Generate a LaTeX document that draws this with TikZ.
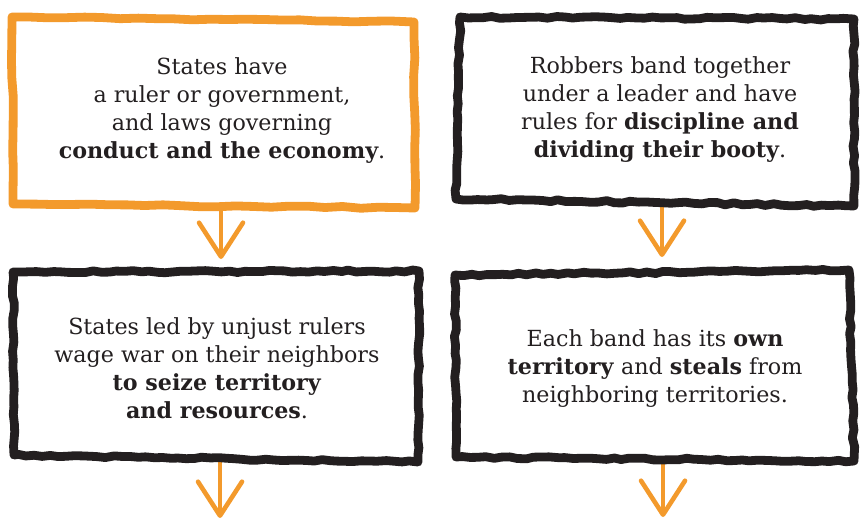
\documentclass[tikz,border=0pt]{standalone}
\usepackage{fontspec}
\setmainfont{DejaVu Serif}[BoldFont=DejaVu Serif Bold]
\usepackage{tikz}
\usetikzlibrary{arrows.meta,decorations.pathmorphing}
\definecolor{brushorange}{HTML}{F39A2C}
\definecolor{brushblack}{HTML}{231F20}

\begin{document}
\begin{tikzpicture}[x=0.5pt,y=-0.5pt,
  rough/.style={line width=4.4pt,line join=round,line cap=round,decorate,
    decoration={random steps,segment length=4pt,amplitude=0.55pt}},
  smooth rough/.style={line width=4.4pt,line join=round,line cap=round,decorate,
    decoration={random steps,segment length=9pt,amplitude=0.4pt}},
  fuzz/.style={line width=1.2pt,line join=round,decorate,
    decoration={random steps,segment length=2pt,amplitude=1pt}},
  txt/.style={align=center,text=brushblack,font=\fontsize{11.1}{14}\selectfont},
  down/.style={brushorange,line width=2.3pt,line cap=round,
    -{Straight Barb[length=17pt,width=22pt,round]}}]
\pgfmathsetseed{7}
\useasboundingbox (0,0) rectangle (860,520);
% texts
\node[txt] (states) at (222,111) {States have\\ a ruler or government,\\ and laws governing\\ \textbf{conduct and the economy}.};
\node[txt] (robbers) at (660,110) {Robbers band together\\ under a leader and have\\ rules for \textbf{discipline and}\\ \textbf{dividing their booty}.};
\node[txt] (war) at (217,368) {States led by unjust rulers\\ wage war on their neighbors\\ \textbf{to seize territory}\\ \textbf{and resources}.};
\node[txt] (bands) at (655,369) {Each band has its \textbf{own}\\ \textbf{territory} and \textbf{steals} from\\ neighboring territories.};
% arrows
\coordinate (foot1) at (221,206); \coordinate (tip1) at (221,259);
\coordinate (foot2) at (662,205); \coordinate (tip2) at (662,257);
\coordinate (foot3) at (220,460); \coordinate (tip3) at (220,518);
\coordinate (foot4) at (663,460); \coordinate (tip4) at (663,517);
\draw[down] (foot1) -- (tip1);
\draw[down] (foot2) -- (tip2);
\draw[down] (foot3) -- (tip3);
\draw[down] (foot4) -- (tip4);
% boxes
\draw[smooth rough,brushorange] (12,17) -- (414,22) -- (415,208) -- (13,204) -- cycle;
\draw[rough,brushblack] (460,17) -- (854,19) -- (854,206) -- (456,199) -- cycle;
\draw[fuzz,brushblack] (460,17) -- (854,19) -- (854,206) -- (456,199) -- cycle;
\draw[rough,brushblack] (13,272) -- (419,271) -- (418,462) -- (14,455) -- cycle;
\draw[fuzz,brushblack] (13,272) -- (419,271) -- (418,462) -- (14,455) -- cycle;
\draw[rough,brushblack] (455,275) -- (849,270) -- (854,461) -- (456,457) -- cycle;
\draw[fuzz,brushblack] (455,275) -- (849,270) -- (854,461) -- (456,457) -- cycle;
\end{tikzpicture}
\end{document}
